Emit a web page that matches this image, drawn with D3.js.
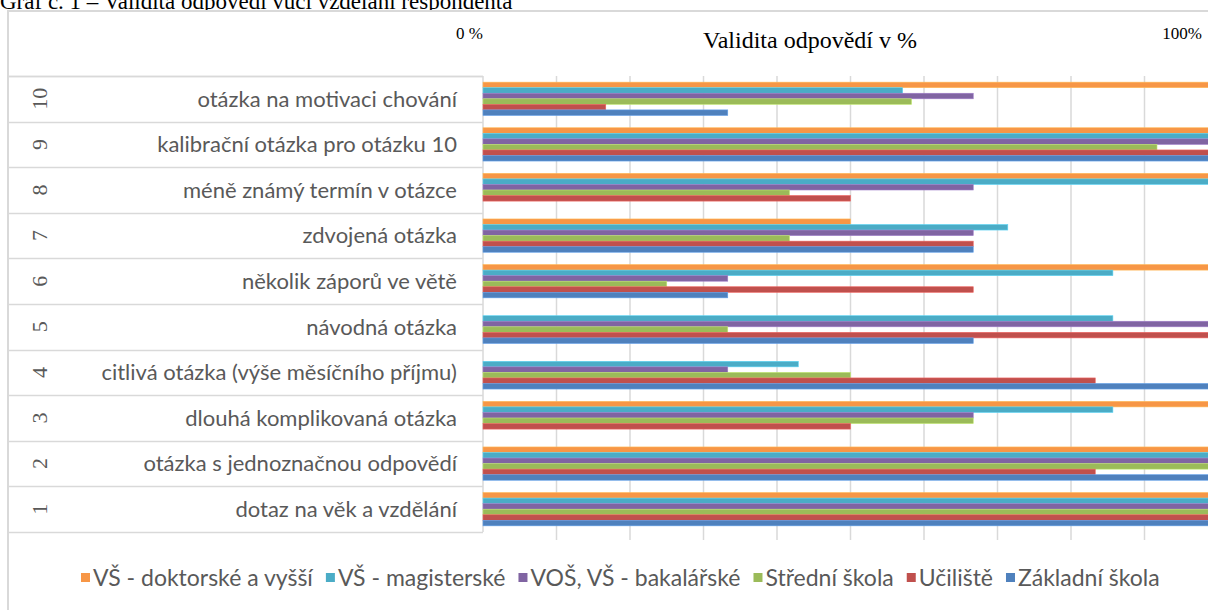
<!DOCTYPE html>
<html>
<head>
<meta charset="utf-8">
<script src="https://cdn.jsdelivr.net/npm/d3@7"></script>
<style>
  body { margin: 0; background: #fff; }
  svg { display: block; }
</style>
</head>
<body>
<div id="chart"></div>
<script>
// question numbers and labels (bottom to top as in the table)
var questionNumbers = ['1', '2', '3', '4', '5', '6', '7', '8', '9', '10'];
var questionLabels = [
    'dotaz na věk a vzdělání',
    'otázka s jednoznačnou odpovědí',
    'dlouhá komplikovaná otázka',
    'citlivá otázka (výše měsíčního příjmu)',
    'návodná otázka',
    'několik záporů ve větě',
    'zdvojená otázka',
    'méně známý termín v otázce',
    'kalibrační otázka pro otázku 10',
    'otázka na motivaci chování'
];

// education groups, legend order
var seriesNames = ['VŠ - doktorské a vyšší', 'VŠ - magisterské', 'VOŠ, VŠ - bakalářské', 'Střední škola', 'Učiliště', 'Základní škola'];
var seriesColors = ['#F79646', '#4BACC6', '#8064A2', '#9BBB59', '#C0504D', '#4F81BD'];

// validity in %, one value per question 1..10
var doktorske  = [100, 100, 100,   0,   0, 100,  50, 100, 100, 100];
var magisterske = [100, 100, 85.7, 42.9, 85.7, 85.7, 71.4, 100, 100, 57.1];
var bakalarske = [100, 100, 66.7, 33.3, 100, 33.3, 66.7, 66.7, 100, 66.7];
var stredni    = [100, 100, 66.7,  50, 33.3,  25, 41.7, 41.7, 91.7, 58.3];
var uciliste   = [100, 83.3,  50, 83.3, 100, 66.7, 66.7,  50, 100, 16.7];
var zakladni   = [100, 100,   0, 100, 66.7, 33.3, 66.7,   0, 100, 33.3];
var seriesValues = [doktorske, magisterske, bakalarske, stredni, uciliste, zakladni];

var gridTicks = [0, 10, 20, 30, 40, 50, 60, 70, 80, 90, 100];

var width = 1208, height = 610;
var gray = '#d9d9d9', textGray = '#595959';
var sans = 'Lato, "Open Sans", sans-serif';
var serif = '"Liberation Serif", "DejaVu Serif", serif';

var svg = d3.select('#chart').append('svg')
    .attr('width', width)
    .attr('height', height);

// title, cut off by the top edge like in the source
svg.append('text')
    .attr('x', 0)
    .attr('y', 9)
    .attr('font-family', serif)
    .attr('font-size', 23)
    .attr('fill', '#000')
    .text('Graf č. 1 – Validita odpovědí vůči vzdělání respondenta');

// outer frame
svg.append('rect')
    .attr('x', 8).attr('y', 11)
    .attr('width', 1300).attr('height', 700)
    .attr('fill', '#fff')
    .attr('stroke', gray)
    .attr('stroke-width', 2);

var tableLeft = 8, plotLeft = 483, plotTop = 76, plotBottom = 532;

var x = d3.scaleLinear().domain([0, 100]).range([plotLeft, plotLeft + 735]);

var y = d3.scaleBand()
    .domain(questionNumbers.slice().reverse())
    .range([plotTop, plotBottom])
    .paddingInner(0.27)
    .paddingOuter(0.135);

var ySeries = d3.scaleBand()
    .domain(seriesNames)
    .range([0, y.bandwidth()]);

// vertical gridlines
svg.append('g')
    .selectAll('line')
    .data(gridTicks.slice(1))
    .join('line')
    .attr('x1', d => x(d)).attr('x2', d => x(d))
    .attr('y1', plotTop).attr('y2', 540)
    .attr('stroke', gray)
    .attr('stroke-width', 1.5);

// table row lines
var rowEdges = questionNumbers.map(q => y(q) - y.step() * y.paddingInner() / 2);
rowEdges.push(plotTop);
rowEdges.push(plotBottom);
svg.append('g')
    .selectAll('line')
    .data(rowEdges)
    .join('line')
    .attr('x1', tableLeft).attr('x2', plotLeft)
    .attr('y1', d => Math.round(d) + 0.5).attr('y2', d => Math.round(d) + 0.5)
    .attr('stroke', gray)
    .attr('stroke-width', 1.5);

svg.append('line')
    .attr('x1', plotLeft).attr('x2', plotLeft)
    .attr('y1', plotTop).attr('y2', plotBottom)
    .attr('stroke', gray)
    .attr('stroke-width', 1.5);

// bars
var barData = [];
questionNumbers.forEach(function(q, qi) {
    seriesNames.forEach(function(s, si) {
        barData.push({q: q, s: s, color: seriesColors[si], value: seriesValues[si][qi]});
    });
});

svg.append('g')
    .selectAll('rect')
    .data(barData.filter(d => d.value > 0))
    .join('rect')
    .attr('x', x(0))
    .attr('y', d => y(d.q) + ySeries(d.s))
    .attr('width', d => x(d.value) - x(0))
    .attr('height', ySeries.bandwidth())
    .attr('fill', d => d.color)
    .attr('stroke', d => d3.color(d.color).brighter(0.6))
    .attr('stroke-width', 0.6);

// question numbers, rotated
svg.append('g')
    .selectAll('text')
    .data(questionNumbers)
    .join('text')
    .attr('transform', d => 'translate(47,' + (y(d) + y.bandwidth() / 2) + ') rotate(-90)')
    .attr('text-anchor', 'middle')
    .attr('font-family', serif)
    .attr('font-size', 22)
    .attr('fill', textGray)
    .text(d => d);

// question labels
svg.append('g')
    .selectAll('text')
    .data(questionNumbers)
    .join('text')
    .attr('x', 457)
    .attr('y', d => y(d) + y.bandwidth() / 2)
    .attr('dy', '0.35em')
    .attr('text-anchor', 'end')
    .attr('font-family', sans)
    .attr('font-size', 22)
    .attr('fill', textGray)
    .text((d, i) => questionLabels[i]);

// header texts
svg.append('text')
    .attr('x', 456).attr('y', 39)
    .attr('font-family', serif)
    .attr('font-size', 17)
    .text('0 %');
svg.append('text')
    .attr('x', 810).attr('y', 48)
    .attr('text-anchor', 'middle')
    .attr('font-family', serif)
    .attr('font-size', 24)
    .text('Validita odpovědí v %');
svg.append('text')
    .attr('x', 1202).attr('y', 39)
    .attr('text-anchor', 'end')
    .attr('font-family', serif)
    .attr('font-size', 17)
    .text('100%');

// legend
var legend = svg.append('g').attr('transform', 'translate(81,578)');
var lx = 0;
seriesNames.forEach(function(name, i) {
    var item = legend.append('g').attr('transform', 'translate(' + lx + ',0)');
    item.append('rect')
        .attr('x', 0).attr('y', -5)
        .attr('width', 9).attr('height', 9)
        .attr('fill', seriesColors[i]);
    var t = item.append('text')
        .attr('x', 12).attr('y', 0)
        .attr('dy', '0.35em')
        .attr('font-family', sans)
        .attr('font-size', 23)
        .attr('fill', textGray)
        .text(name);
    lx += 12 + t.node().getComputedTextLength() + 13;
});
</script>
</body>
</html>
